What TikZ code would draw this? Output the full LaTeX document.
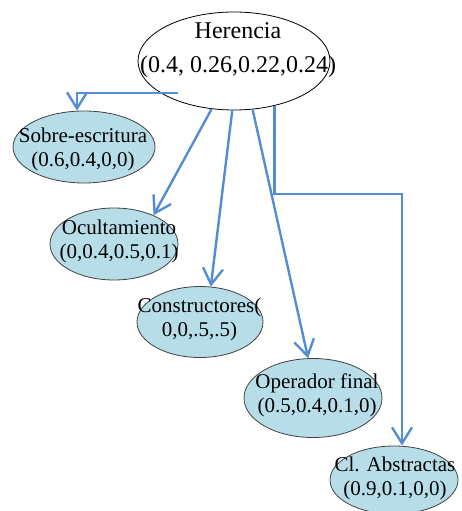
\documentclass[tikz,border=0pt]{standalone}
\usepackage{fontspec}
\setmainfont{Liberation Serif}
\usetikzlibrary{shapes.geometric,arrows.meta}
\definecolor{linkblue}{HTML}{558DD2}
\definecolor{leaffill}{HTML}{B7DEE8}
\definecolor{leafedge}{HTML}{404040}
\begin{document}
\begin{tikzpicture}[x=1pt,y=-1pt,>={Straight Barb[length=16pt,width=20pt]},
        leaf/.style={ellipse,draw=leafedge,fill=leaffill,inner sep=0pt,line width=0.8pt},
        leaftext/.style={align=center,inner sep=0pt,font=\fontsize{21}{24}\selectfont},
        link/.style={->,color=linkblue,line width=2.4pt}]
                \useasboundingbox (0,0) rectangle (462,511);
                
                \node[ellipse,draw,fill=white,inner sep=0pt,line width=0.8pt,
                      minimum width=192pt,minimum height=98pt] (her) at (234,61) {};
                \node[align=center,inner sep=0pt,font=\fontsize{24}{34}\selectfont]
                      (her-t) at (238,50) {Herencia\\(0.4, 0.26,0.22,0.24)};
                
                \node[leaf,minimum width=142pt,minimum height=72pt] (sobre) at (84,147) {};
                \node[leaftext] (sobre-t) at (83,149) {Sobre-escritura\\(0.6,0.4,0,0)};
                
                \node[leaf,minimum width=128pt,minimum height=72pt] (ocul) at (114,244) {};
                \node[leaftext] (ocul-t) at (119,241) {Ocultamiento\\(0,0.4,0.5,0.1)};
                
                \node[leaf,minimum width=126pt,minimum height=71pt] (cons) at (200,322) {};
                \node[leaftext] (cons-t) at (199.5,319) {Constructores(\\0,0,.5,.5)};
                
                \node[leaf,minimum width=138pt,minimum height=79pt] (oper) at (313,398) {};
                \node[leaftext] (oper-t) at (317,395) {Operador final\\(0.5,0.4,0.1,0)};
                
                \node[leaf,minimum width=128pt,minimum height=68pt] (abs) at (394,480) {};
                \node[leaftext] (abs-t) at (395,478) {Cl. Abstractas\\(0.9,0.1,0,0)};
                
                \coordinate (start1) at (178,93);
                \coordinate (knee) at (402,194);
                
                \draw[link] (start1) -| ([xshift=-7pt]sobre.north);
                \path[link] (her.245) edge (ocul.36)
                            (her.268) edge (cons.73)
                            (her.291) edge (oper.97);
                \draw[link] (her.312) |- (knee) -- ([xshift=8pt]abs.north);
\end{tikzpicture}
\end{document}
